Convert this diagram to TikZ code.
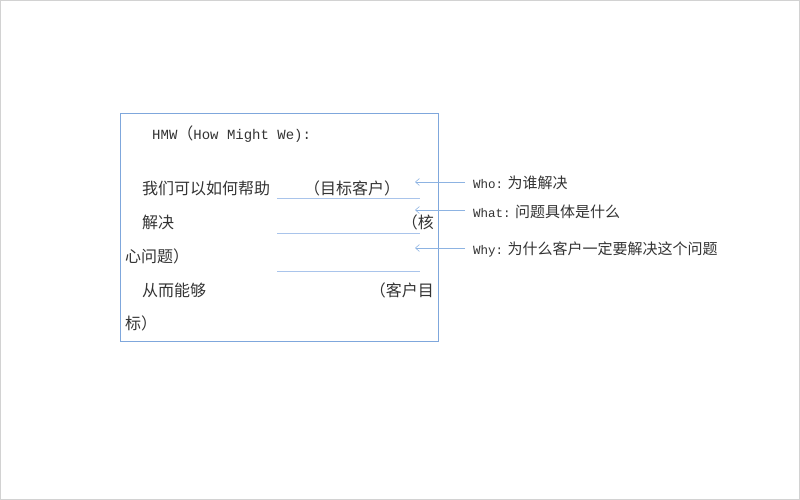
\documentclass[tikz,border=0pt]{standalone}
\usepackage{fontspec}
\newfontfamily\cjk{Noto Sans CJK SC}
\newfontfamily\mono{Liberation Mono}
\usetikzlibrary{arrows.meta}
\definecolor{boxblue}{HTML}{7FA7DC}
\definecolor{lineblue}{HTML}{A9C4EB}
\definecolor{arrblue}{HTML}{8DB3E2}
\definecolor{txt}{HTML}{333333}
\tikzset{
  bodytext/.style={inner sep=0pt, anchor=west, text=txt, font=\fontsize{16}{18}\selectfont\cjk},
  labeltext/.style={inner sep=0pt, anchor=west, text=txt, font=\fontsize{15}{17}\selectfont\cjk},
  fillline/.style={draw=lineblue, line width=0.8pt},
  pointer/.style={draw=arrblue, line width=0.6pt, -{Straight Barb[length=4pt,width=7pt]}},
}
\begin{document}
\begin{tikzpicture}[x=1pt,y=-1pt]
\useasboundingbox (0,0) rectangle (800,500);
\draw[gray!35] (0.5,0.5) rectangle (799.5,499.5);
\node[draw=boxblue, line width=0.7pt, minimum width=318pt, minimum height=228pt, anchor=north west, inner sep=0pt] (box) at (120,113) {};
% box text
\node[bodytext] (hmw) at (152,134) {{\fontsize{14}{16}\selectfont\mono HMW}（{\fontsize{14}{16}\selectfont\mono How Might We):}};
\node[bodytext] (l1a) at (142,188) {我们可以如何帮助};
\node[bodytext] (l1b) at (304,188) {（目标客户）};
\node[bodytext] (l2a) at (142,222) {解决};
\node[bodytext, anchor=east] (l2b) at (434,222) {（核};
\node[bodytext] (l3a) at (125,256) {心问题）};
\node[bodytext] (l4a) at (142,290) {从而能够};
\node[bodytext, anchor=east] (l4b) at (434,290) {（客户目};
\node[bodytext] (l5a) at (125,323) {标）};
% blanks
\coordinate (u1s) at (277,198); \coordinate (u1e) at (420,198);
\coordinate (u2s) at (277,233); \coordinate (u2e) at (420,233);
\coordinate (u3s) at (277,271); \coordinate (u3e) at (420,271);
\draw[fillline] (u1s) -- (u1e);
\draw[fillline] (u2s) -- (u2e);
\draw[fillline] (u3s) -- (u3e);
% labels
\node[labeltext] (who) at (473,183) {{\fontsize{12.5}{15}\selectfont\mono Who:} 为谁解决};
\node[labeltext] (what) at (473,212) {{\fontsize{12.5}{15}\selectfont\mono What:} 问题具体是什么};
\node[labeltext] (why) at (473,249) {{\fontsize{12.5}{15}\selectfont\mono Why:} 为什么客户一定要解决这个问题};
\coordinate (whotip) at (415,182);
\coordinate (whattip) at (415,210);
\coordinate (whytip) at (415,248);
\draw[pointer] ([xshift=-8pt]who.west |- whotip) -- (whotip);
\draw[pointer] ([xshift=-8pt]what.west |- whattip) -- (whattip);
\draw[pointer] ([xshift=-8pt]why.west |- whytip) -- (whytip);
\end{tikzpicture}
\end{document}
